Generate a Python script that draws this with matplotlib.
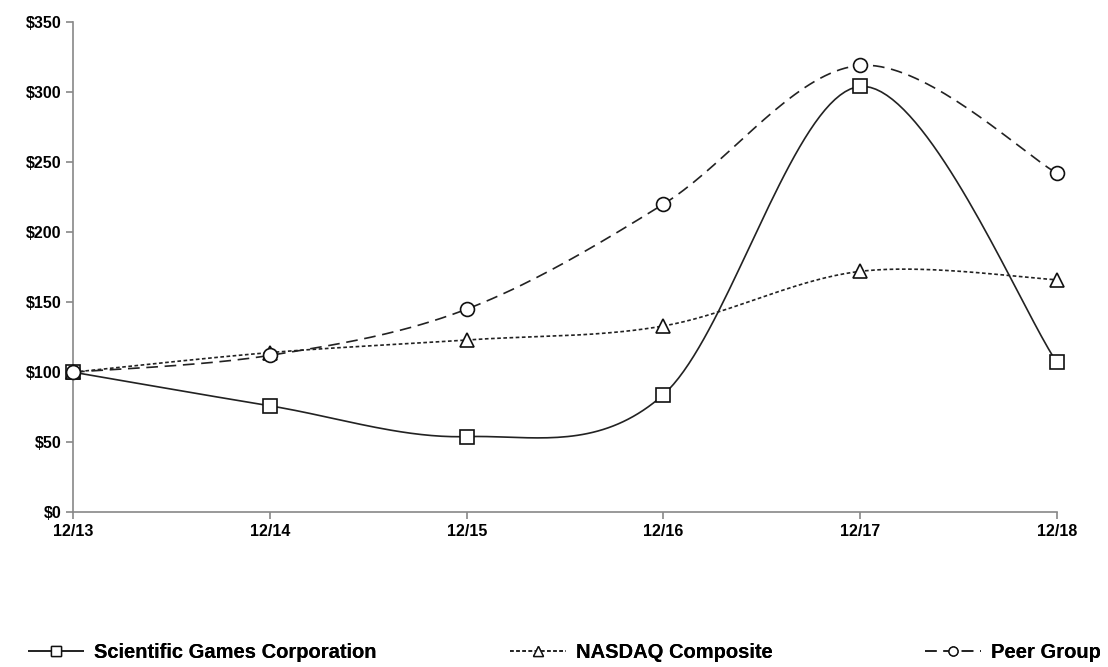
import numpy as np
import matplotlib.pyplot as plt
from matplotlib.ticker import FuncFormatter

years = ['12/13', '12/14', '12/15', '12/16', '12/17', '12/18']
sgc = [100, 76, 54, 84, 304, 107]
nasdaq = [100, 114, 123, 133, 172, 166]
peer = [100, 112, 145, 220, 319, 242]


def smooth(y, n=40):
    # Excel-style smoothed line: cubic Bezier segments through the points
    y = np.asarray(y, dtype=float)
    x = np.arange(len(y), dtype=float)
    xs, ys = [], []
    for i in range(len(y) - 1):
        p0 = np.array([x[max(i - 1, 0)], y[max(i - 1, 0)]])
        p1 = np.array([x[i], y[i]])
        p2 = np.array([x[i + 1], y[i + 1]])
        p3 = np.array([x[min(i + 2, len(y) - 1)], y[min(i + 2, len(y) - 1)]])
        c1 = p1 + (p2 - p0) / 6
        c2 = p2 - (p3 - p1) / 6
        t = np.linspace(0, 1, n)[:, None]
        b = ((1 - t) ** 3) * p1 + 3 * ((1 - t) ** 2) * t * c1 + 3 * (1 - t) * t ** 2 * c2 + t ** 3 * p2
        xs.extend(b[:, 0])
        ys.extend(b[:, 1])
    return np.array(xs), np.array(ys)


plt.rcParams['font.family'] = ['Liberation Sans', 'DejaVu Sans']

fig = plt.figure(figsize=(11.08, 6.67), dpi=100)
ax = fig.add_axes([0.066, 0.232, 0.888, 0.735])

series = [
    (sgc, 'Scientific Games Corporation', 's', (0, ())),
    (nasdaq, 'NASDAQ Composite', '^', (0, (2.2, 1.5))),
    (peer, 'Peer Group', 'o', (0, (7, 4))),
]

handles = []
for vals, name, mk, ls in series:
    sx, sy = smooth(vals)
    ax.plot(sx, sy, color='#222222', lw=1.2, linestyle=ls, clip_on=False)
    ax.plot(range(len(vals)), vals, linestyle='none', marker=mk, ms=10,
            mfc='white', mec='#111111', mew=1.2, clip_on=False, zorder=3)
    h, = ax.plot([], [], color='#222222', lw=1.2, linestyle=ls, marker=mk,
                 ms=6.5, mfc='white', mec='#111111', mew=1.0, label=name)
    handles.append(h)

ax.set_xlim(0, len(years) - 1)
ax.set_ylim(0, 350)
ax.set_yticks(range(0, 351, 50))
ax.yaxis.set_major_formatter(FuncFormatter(lambda v, p: '$%d' % v))
ax.set_xticks(range(len(years)))
ax.set_xticklabels(years)

for s in ['top', 'right']:
    ax.spines[s].set_visible(False)
for s in ['left', 'bottom']:
    ax.spines[s].set_color('#888888')
    ax.spines[s].set_linewidth(1.2)
ax.tick_params(colors='#888888', labelcolor='black', length=5, width=1.2)
for lab in ax.get_xticklabels() + ax.get_yticklabels():
    lab.set_fontweight('bold')
    lab.set_fontsize(11.5)

# one legend per entry so each sits where the reference puts it
legend_x = [28, 510, 925]
for h, lx in zip(handles, legend_x):
    leg = fig.legend(handles=[h], loc='center left',
                     bbox_to_anchor=(lx / 1108, 1 - 653 / 667),
                     frameon=False, borderpad=0, borderaxespad=0,
                     handlelength=2.8, handletextpad=0.5,
                     prop={'weight': 'bold', 'size': 14.5})
    fig.add_artist(leg)

fig.savefig('out.png', dpi=100)
